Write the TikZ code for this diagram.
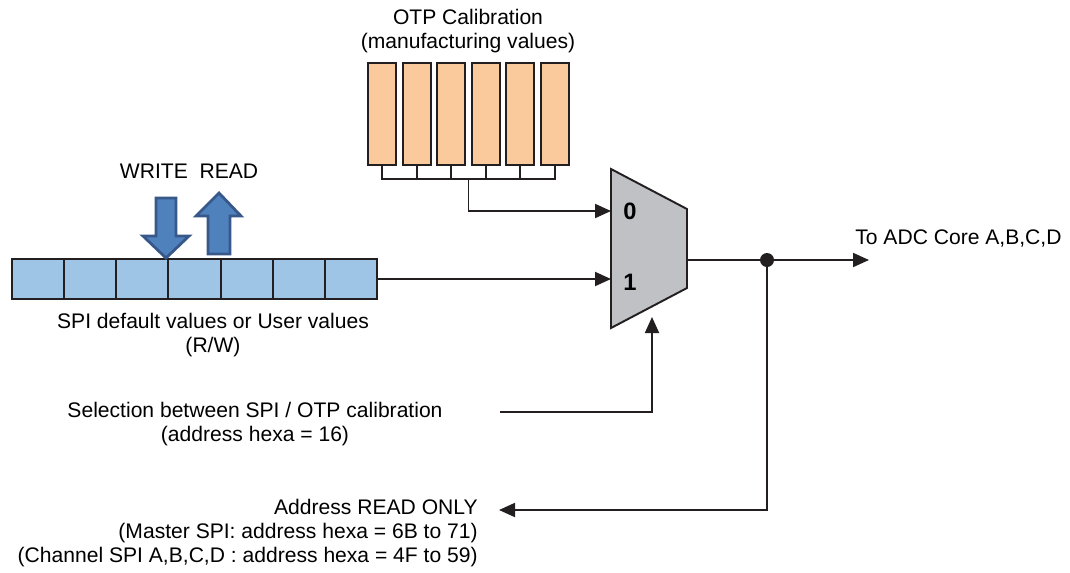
\documentclass[tikz,border=0pt]{standalone}
\usepackage{fontspec}
\setmainfont{Liberation Sans}
\usetikzlibrary{arrows.meta,calc}
\definecolor{otpfill}{RGB}{250,201,156}
\definecolor{spifill}{RGB}{158,196,230}
\definecolor{rwfill}{RGB}{79,129,189}
\definecolor{rwdraw}{RGB}{56,88,138}
\definecolor{muxfill}{RGB}{191,193,196}
\definecolor{linegray}{RGB}{35,31,32}

\begin{document}
\begin{tikzpicture}[x=0.02cm,y=-0.02cm,
      every node/.style={font=\fontsize{12}{13.7}\selectfont,inner sep=0pt,align=center,text=black},
      otpcell/.style={draw=linegray,fill=otpfill,line width=1.1pt,minimum width=0.56cm,minimum height=2.04cm},
      spicell/.style={draw=linegray,fill=spifill,line width=1.2pt,minimum width=1.043cm,minimum height=0.8cm},
      wire/.style={draw=linegray,line width=1.1pt},
      sig/.style={wire,-{Triangle[length=0.32cm,width=0.28cm]}},
      rwarrow/.style={draw=rwdraw,fill=rwfill,line width=1.6pt,line join=miter}
     ]
\useasboundingbox (0,0) rectangle (1070,572);

\node (otplbl) at (468,31) {OTP Calibration\\(manufacturing values)};
\foreach \i in {1,...,6}
  \node[otpcell] (otp\i) at ({382+(\i-1)*34.6},114) {};
\coordinate (bus) at ($(otp3.south)!0.5!(otp4.south)+(0,13)$);
\draw[wire] (otp1.south) |- (otp6.south |- bus) -- (otp6.south);
\foreach \i in {2,...,5}
  \draw[wire] (otp\i.south) -- (otp\i.south |- bus);

\filldraw[wire,fill=muxfill] (611,169) -- (687,209) -- (687,288) -- (611,328) -- cycle;
\coordinate (in0) at (611,211);
\coordinate (in1) at (611,279);
\coordinate (out) at (687,260);
\coordinate (sel) at (652,317);
\node[font=\fontsize{13.5}{14}\selectfont\bfseries] (lbl0) at (630,211) {0};
\node[font=\fontsize{13.5}{14}\selectfont\bfseries] (lbl1) at (630,282) {1};
\draw[sig] (bus) |- (in0);

\node (rwlbl) at (189,171) {WRITE\ \ READ};
\foreach \i in {1,...,7}
  \node[spicell] (spi\i) at ({38.07+(\i-1)*52.14},279) {};
\filldraw[rwarrow] (156,198) -- (176,198) -- (176,236) -- (189,236) -- (166,258) -- (143,236) -- (156,236) -- cycle;
\filldraw[rwarrow] (208,254) -- (230,254) -- (230,216) -- (241,216) -- (219,193) -- (196,216) -- (208,216) -- cycle;
\node (spilbl) at (213,335) {SPI default values or User values\\(R/W)};
\draw[sig] (spi7.east) -- (in1);

\node (sellbl) at (255,424) {Selection between SPI / OTP calibration\\(address hexa = 16)};
\coordinate (selstart) at (500,412);
\draw[sig] (selstart) -| (sel);

\node[anchor=west] (adc) at (855,238) {To ADC Core A,B,C,D};
\coordinate (adcend) at (869,260);
\node[circle,fill=linegray,minimum size=0.28cm] (jn) at (767,260) {};
\draw[sig] (out) -- (adcend);

\node[align=right,anchor=east] (addr) at (478,533) {Address READ ONLY\\(Master SPI: address hexa = 6B to 71)\\(Channel SPI A,B,C,D : address hexa = 4F to 59)};
\coordinate (rdend) at (499,510);
\draw[sig] (jn.center) |- (rdend);
\end{tikzpicture}
\end{document}
